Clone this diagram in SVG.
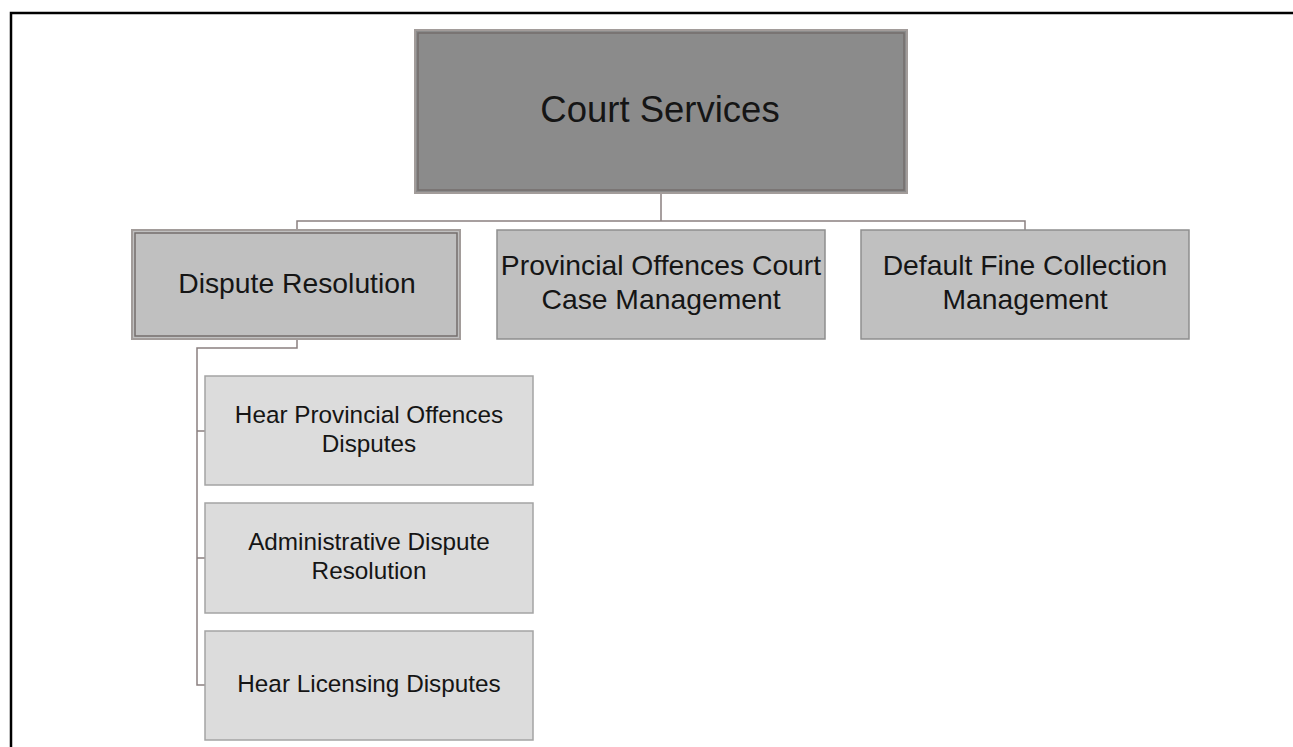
<svg xmlns="http://www.w3.org/2000/svg" width="1293" height="747" viewBox="0 0 1293 747">
<style>
text{font-family:"Liberation Sans",Arial,sans-serif;fill:#151515;text-anchor:middle}
.root{font-size:36.5px}
.l1{font-size:28.3px}
.l2{font-size:24.3px}
.conn{fill:none;stroke:#8a8080;stroke-width:1.5}
.outer{stroke:#a29c9a;stroke-width:2}
.inner{fill:none;stroke:#746e6c;stroke-width:1.5}
.box1{fill:#c0c0c0;stroke:#8e8e8e;stroke-width:1.5}
.box2{fill:#dcdcdc;stroke:#a4a4a4;stroke-width:1.5}
</style>
<rect x="0" y="0" width="1293" height="747" fill="#ffffff"/>
<path d="M11 747 V13 H1293" fill="none" stroke="#000" stroke-width="2.5"/>
<g id="connectors">
<path class="conn" d="M661 193 V221 M297 230 V221 H1025 V230"/>
<path class="conn" d="M297 339 V348 H197 V685 H205 M197 431 H205 M197 558 H205"/>
</g>
<g id="court-services">
<rect class="outer" x="415" y="30" width="492" height="163" fill="#8b8b8b"/>
<rect class="inner" x="418" y="33" width="486" height="157"/>
<text class="root" x="660" y="122">Court Services</text>
</g>
<g id="dispute-resolution">
<rect class="outer" x="132" y="230" width="328" height="109" fill="#c0c0c0"/>
<rect class="inner" x="135" y="233" width="322" height="103"/>
<text class="l1" x="297" y="293">Dispute Resolution</text>
</g>
<g id="provincial-offences">
<rect class="box1" x="497" y="230" width="328" height="109"/>
<text class="l1" x="661" y="275">Provincial Offences Court</text>
<text class="l1" x="661" y="309">Case Management</text>
</g>
<g id="default-fine">
<rect class="box1" x="861" y="230" width="328" height="109"/>
<text class="l1" x="1025" y="275">Default Fine Collection</text>
<text class="l1" x="1025" y="309">Management</text>
</g>
<g id="hear-provincial">
<rect class="box2" x="205" y="376" width="328" height="109"/>
<text class="l2" x="369" y="423">Hear Provincial Offences</text>
<text class="l2" x="369" y="452">Disputes</text>
</g>
<g id="administrative">
<rect class="box2" x="205" y="503" width="328" height="110"/>
<text class="l2" x="369" y="550">Administrative Dispute</text>
<text class="l2" x="369" y="579">Resolution</text>
</g>
<g id="hear-licensing">
<rect class="box2" x="205" y="631" width="328" height="109"/>
<text class="l2" x="369" y="692">Hear Licensing Disputes</text>
</g>
</svg>
